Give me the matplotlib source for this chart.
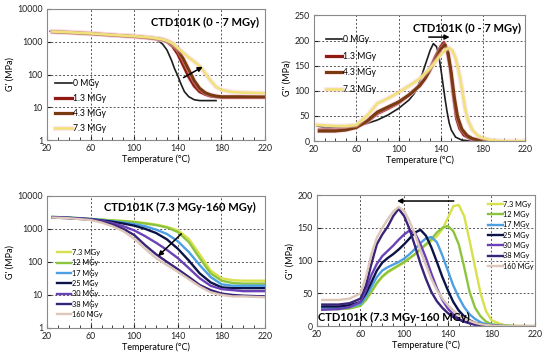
import numpy as np
import matplotlib.pyplot as plt
import matplotlib.patheffects as pe
from matplotlib.ticker import MultipleLocator, FixedLocator

plt.rcParams['font.family'] = ['Lato', 'DejaVu Sans']

# ---- top-left: G' (0 - 7 MGy) ----
t_a0 = [23, 40, 60, 80, 100, 110, 120, 126, 130, 134, 137, 140, 143, 146, 150, 155, 160, 167, 175]
g_a0 = [2100, 2000, 1850, 1650, 1500, 1400, 1200, 850, 560, 280, 150, 90, 50, 30, 21, 17, 16, 16, 16]
t_a = [25, 40, 60, 80, 100, 115, 125, 130, 135, 140, 145, 150, 155, 160, 165, 170, 175, 180, 190, 200, 220]
g_a13 = [2050, 1950, 1800, 1600, 1450, 1300, 1150, 1000, 750, 420, 190, 85, 45, 30, 25, 22, 21, 20, 20, 20, 20]
g_a43 = [2000, 1900, 1750, 1580, 1450, 1300, 1180, 1050, 850, 580, 300, 140, 65, 38, 28, 24, 22, 21, 21, 21, 21]
g_a73 = [2050, 1950, 1800, 1620, 1480, 1350, 1200, 1080, 900, 640, 460, 330, 250, 180, 110, 65, 42, 34, 29, 28, 27]

# ---- top-right: G'' (0 - 7 MGy) ----
t_b0 = [23, 30, 40, 50, 60, 70, 80, 90, 100, 110, 115, 120, 125, 130, 133, 136, 138, 140, 142, 144, 146, 148, 150, 154, 160, 170]
v_b0 = [30, 27, 27, 28, 30, 35, 42, 52, 65, 82, 95, 118, 150, 181, 194, 188, 172, 145, 115, 85, 58, 36, 22, 8, 2, 0]
t_b13 = [25, 40, 50, 60, 70, 80, 90, 100, 110, 120, 125, 130, 135, 140, 143, 146, 149, 152, 155, 158, 162, 168, 175, 180]
v_b13 = [22, 22, 24, 28, 38, 55, 65, 76, 92, 111, 125, 145, 168, 188, 196, 180, 145, 90, 45, 25, 12, 5, 1, 0]
t_b43 = [25, 40, 50, 60, 70, 80, 90, 100, 110, 120, 125, 130, 135, 140, 144, 147, 150, 153, 156, 160, 165, 170, 178, 185]
v_b43 = [20, 20, 22, 27, 40, 58, 68, 78, 92, 110, 124, 142, 163, 183, 192, 175, 135, 85, 48, 24, 11, 5, 1, 0]
t_b73 = [23, 40, 50, 60, 70, 80, 90, 100, 110, 120, 130, 140, 145, 148, 151, 154, 157, 160, 163, 166, 170, 175, 180, 185, 193, 200, 220]
v_b73 = [32, 30, 30, 32, 50, 75, 85, 97, 110, 124, 145, 172, 183, 185, 180, 165, 140, 105, 65, 40, 22, 11, 6, 3, 1, 0, 0]

# ---- bottom-left: G' (7.3 - 160 MGy) ----
t_c = [25, 40, 60, 70, 80, 90, 100, 110, 120, 130, 140, 150, 160, 170, 180, 190, 200, 220]
g_c73 = [2300, 2200, 2000, 1900, 1800, 1750, 1650, 1500, 1350, 1150, 900, 500, 170, 55, 32, 28, 27, 27]
g_c12 = [2300, 2200, 2000, 1900, 1800, 1700, 1600, 1450, 1300, 1100, 800, 400, 130, 45, 27, 23, 22, 22]
g_c17 = [2300, 2200, 2000, 1850, 1700, 1550, 1400, 1200, 950, 700, 420, 200, 80, 35, 21, 19, 19, 19]
g_c25 = [2250, 2150, 1950, 1800, 1650, 1450, 1250, 1000, 750, 480, 250, 110, 45, 24, 17, 16, 16, 16]
g_c30 = [2250, 2150, 1950, 1750, 1500, 1200, 900, 600, 380, 230, 130, 65, 32, 19, 15, 14, 13, 13]
g_c38 = [2200, 2100, 1900, 1650, 1350, 1000, 650, 320, 170, 100, 60, 35, 20, 14, 11, 10, 9.5, 9]
g_c160 = [2200, 2100, 1850, 1550, 1200, 850, 500, 250, 130, 80, 50, 30, 18, 12, 10, 9, 9, 8.5]

# ---- bottom-right: G'' (7.3 - 160 MGy) ----
t_d = [25, 40, 50, 60, 65, 70, 75, 80, 85, 90, 95, 100, 105, 110, 115, 120, 125, 130, 135, 140,
       145, 150, 155, 160, 165, 170, 175, 180, 190, 200, 220]
v_d73 = [28, 27, 28, 32, 40, 52, 65, 75, 82, 87, 92, 97, 103, 110, 117, 124, 130, 137, 148, 165,
         183, 185, 168, 130, 90, 50, 23, 9, 2, 0.5, 0]
v_d12 = [26, 26, 27, 31, 40, 53, 66, 76, 83, 88, 93, 98, 104, 110, 118, 125, 133, 143, 150, 153,
         145, 125, 90, 52, 28, 15, 7, 3, 1, 0, 0]
v_d17 = [27, 27, 29, 34, 45, 60, 75, 85, 90, 94, 98, 103, 110, 118, 127, 134, 136, 128, 108, 85,
         62, 44, 29, 18, 11, 6, 3, 2, 0.5, 0, 0]
v_d25 = [30, 30, 32, 37, 50, 67, 85, 97, 104, 110, 117, 125, 134, 143, 147, 138, 120, 98, 75, 55,
         37, 24, 15, 9, 5, 3, 2, 1, 0, 0, 0]
v_d30 = [25, 26, 29, 37, 55, 78, 95, 107, 115, 123, 132, 140, 146, 142, 125, 104, 80, 58, 40, 27,
         18, 11, 7, 4, 2, 1, 0.5, 0, 0, 0, 0]
v_d38 = [33, 33, 35, 42, 62, 95, 125, 140, 152, 168, 179, 168, 148, 122, 95, 72, 52, 38, 28, 20,
         14, 10, 7, 5, 3, 2, 1, 1, 0, 0, 0]
v_d160 = [40, 40, 42, 50, 75, 110, 135, 150, 163, 175, 182, 176, 160, 140, 115, 93, 72, 55, 42, 32,
          24, 17, 12, 8, 5, 3, 2, 1, 0.5, 0, 0]

labels_a = ['0 MGy', '1.3 MGy', '4.3 MGy', '7.3 MGy']
labels_c = ['7.3 MGy', '12 MGy', '17 MGy', '25 MGy', '30 MGy', '38 MGy', '160 MGy']
cols_a = ['#1e1e1e', '#8e1b12', '#7a3a10', '#f0e27a']
cols_c = ['#d8e04c', '#8cc43e', '#4b9fe2', '#0b1446', '#6b42b6', '#3a2478', '#dcc7b8']

glow = [pe.withStroke(linewidth=3.6, foreground='#f9cbdc', alpha=0.45)]

fig = plt.figure(figsize=(5.5, 3.6), dpi=100)
ax1 = fig.add_axes([0.0855, 0.611, 0.3965, 0.364])
ax2 = fig.add_axes([0.571, 0.608, 0.384, 0.349])
ax3 = fig.add_axes([0.0855, 0.089, 0.3965, 0.367])
ax4 = fig.add_axes([0.576, 0.094, 0.397, 0.364])


def style(ax, ylab):
    ax.set_xlim(20, 220)
    ax.xaxis.set_major_locator(FixedLocator([20, 60, 100, 140, 180, 220]))
    ax.xaxis.set_minor_locator(MultipleLocator(10))
    ax.tick_params(which='both', direction='in', labelsize=6.3, colors='#222222', pad=3)
    ax.tick_params(which='major', length=3)
    ax.tick_params(which='minor', length=2)
    ax.tick_params(axis='y', which='minor', length=0)
    for s in ax.spines.values():
        s.set_color('#8a8a8a')
        s.set_linewidth(0.8)
    for x in [60, 100, 140, 180]:
        ax.axvline(x, color='#555555', ls=(0, (2, 2)), lw=0.7, zorder=0)
    ax.set_xlabel('Temperature (°C)', fontsize=6.5, labelpad=1)
    ax.set_ylabel(ylab, fontsize=6.5, labelpad=2)


# top-left
style(ax1, "G' (MPa)")
ax1.set_yscale('log')
ax1.set_ylim(1, 10000)
ax1.set_yticks([1, 10, 100, 1000, 10000])
ax1.set_yticklabels(['1', '10', '100', '1000', '10000'])
for y in [10, 100, 1000]:
    ax1.axhline(y, color='#555555', ls=(0, (2, 2)), lw=0.7, zorder=0)
ax1.plot(t_a0, g_a0, color=cols_a[0], lw=1.2, label=labels_a[0])
ax1.plot(t_a, g_a13, color=cols_a[1], lw=2.2, label=labels_a[1], path_effects=glow)
ax1.plot(t_a, g_a43, color=cols_a[2], lw=2.2, label=labels_a[2], path_effects=glow)
ax1.plot(t_a, g_a73, color=cols_a[3], lw=1.9, label=labels_a[3], path_effects=glow)
ax1.annotate('', xy=(165, 190), xytext=(143, 73),
             arrowprops=dict(arrowstyle='-|>', color='black', lw=1.1, mutation_scale=7))
ax1.text(0.725, 0.895, 'CTD101K (0 - 7 MGy)', transform=ax1.transAxes, ha='center',
         va='center', fontsize=8, fontweight='bold')
ax1.legend(loc='upper left', bbox_to_anchor=(0.02, 0.49), frameon=False, fontsize=6.2,
           handlelength=2.0, handletextpad=0.1, labelspacing=0.68, borderaxespad=0)

# top-right
style(ax2, "G'' (MPa)")
ax2.set_ylim(0, 250)
ax2.yaxis.set_major_locator(MultipleLocator(50))
for y in [50, 100, 150, 200]:
    ax2.axhline(y, color='#555555', ls=(0, (2, 2)), lw=0.7, zorder=0)
ax2.plot(t_b0, v_b0, color=cols_a[0], lw=1.2, label=labels_a[0])
ax2.plot(t_b13, v_b13, color=cols_a[1], lw=2.2, label=labels_a[1], path_effects=glow)
ax2.plot(t_b43, v_b43, color=cols_a[2], lw=2.2, label=labels_a[2], path_effects=glow)
ax2.plot(t_b73, v_b73, color=cols_a[3], lw=1.9, label=labels_a[3], path_effects=glow)
ax2.annotate('', xy=(151, 207), xytext=(126, 207),
             arrowprops=dict(arrowstyle='-|>', color='black', lw=1.1, mutation_scale=7))
ax2.text(0.725, 0.9, 'CTD101K (0 - 7 MGy)', transform=ax2.transAxes, ha='center',
         va='center', fontsize=8, fontweight='bold')
ax2.legend(loc='upper left', bbox_to_anchor=(0.04, 0.87), frameon=False, fontsize=6.2,
           handlelength=1.9, handletextpad=0.1, labelspacing=0.88, borderaxespad=0)

# bottom-left
style(ax3, "G' (MPa)")
ax3.set_yscale('log')
ax3.set_ylim(1, 10000)
ax3.set_yticks([1, 10, 100, 1000, 10000])
ax3.set_yticklabels(['1', '10', '100', '1000', '10000'])
for y in [10, 100, 1000]:
    ax3.axhline(y, color='#555555', ls=(0, (2, 2)), lw=0.7, zorder=0)
for vals, c, lab in zip([g_c73, g_c12, g_c17, g_c25, g_c30, g_c38, g_c160], cols_c, labels_c):
    ax3.plot(t_c, vals, color=c, lw=1.7, label=lab)
ax3.annotate('', xy=(120, 130), xytext=(145, 810),
             arrowprops=dict(arrowstyle='-|>', color='black', lw=1.1, mutation_scale=7))
ax3.text(0.61, 0.91, 'CTD101K (7.3 MGy-160 MGy)', transform=ax3.transAxes, ha='center',
         va='center', fontsize=8, fontweight='bold')
ax3.legend(loc='upper left', bbox_to_anchor=(0.03, 0.62), frameon=False, fontsize=5.3,
           handlelength=2.0, handletextpad=0.1, labelspacing=0.45, borderaxespad=0)

# bottom-right
style(ax4, "G'' (MPa)")
ax4.set_ylim(0, 200)
ax4.yaxis.set_major_locator(MultipleLocator(50))
for y in [50, 100, 150]:
    ax4.axhline(y, color='#555555', ls=(0, (2, 2)), lw=0.7, zorder=0)
for vals, c, lab in zip([v_d73, v_d12, v_d17, v_d25, v_d30, v_d38, v_d160], cols_c, labels_c):
    ax4.plot(t_d, vals, color=c, lw=1.7, label=lab)
ax4.annotate('', xy=(91, 191), xytext=(148, 191),
             arrowprops=dict(arrowstyle='-|>', color='black', lw=1.1, mutation_scale=7))
ax4.text(0.005, 0.07, 'CTD101K (7.3 MGy-160 MGy)', transform=ax4.transAxes, ha='left',
         va='center', fontsize=8, fontweight='bold')
ax4.legend(loc='upper left', bbox_to_anchor=(0.77, 0.98), frameon=False, fontsize=5.3,
           handlelength=2.0, handletextpad=0.1, labelspacing=0.45, borderaxespad=0)

fig.savefig('out.png', dpi=100)
